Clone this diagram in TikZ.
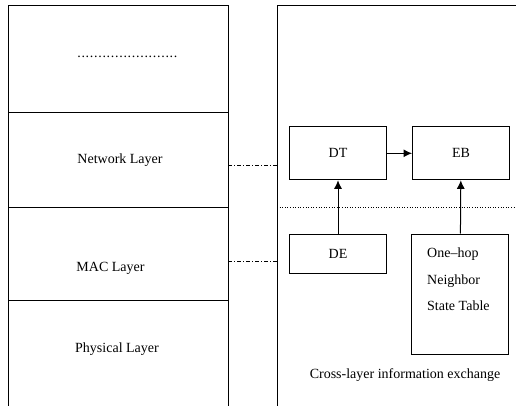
\documentclass[tikz,border=0pt]{standalone}
\usepackage{fontspec}
\setmainfont{Liberation Serif}
\usepackage{tikz}
\usetikzlibrary{arrows.meta,calc,positioning}
\tikzstyle{layertext}=[draw=none, inner sep=0pt, font=\fontsize{14}{16}\selectfont]
\tikzstyle{unit}=[draw, line width=1pt, minimum width=97pt, inner sep=0pt, font=\fontsize{14}{16}\selectfont]
\tikzstyle{textbox}=[draw=none, inner sep=0pt, font=\fontsize{14}{16}\selectfont]
\tikzset{%
    frame/.style={line width=1pt},
    linkline/.style={line width=0.6pt, dash pattern=on 4pt off 2pt on 1pt off 2pt},
    split/.style={line width=0.6pt, dotted},
    flow/.style={-{Latex[length=8.5pt,width=8pt]}, line width=1pt},
  }

\begin{document}
\begin{tikzpicture}[x=1pt, y=-1pt]
    \useasboundingbox (0,0) rectangle (516,406);
    % protocol stack
    \draw [frame] (8,406) -- (8,6) -- (228,6) -- (228,406);
    \draw [frame] (8,113) -- (228,113);
    \draw [frame] (8,207) -- (228,207);
    \draw [frame] (8,300) -- (228,300);
    \node (upper) [layertext] at (127.5,57) {\hbox to 101pt{\leaders\hbox to 4.2pt{\hss.\hss}\hfill}};
    \node (net) [layertext] at (120,160) {Network Layer};
    \node (mac) [layertext] at (110.5,268) {MAC Layer};
    \node (phy) [layertext] at (117,349) {Physical Layer};
    %
    \draw [frame] (277,406) -- (277,6) -- (516,6);
    \coordinate (netR) at (228,165.7);
    \coordinate (macR) at (228,261);
    \coordinate (netL) at (277,165.7);
    \coordinate (macL) at (277,261);
    \draw [linkline] (netR) -- (netL);
    \draw [linkline] (macR) -- (macL);
    \coordinate (splitL) at (277,207);
    \coordinate (splitR) at (516,207);
    \draw [split] (splitL) -- (splitR);
    %
    \node (dt) [unit, minimum height=53pt] at (338,153.3) {DT};
    \node (eb) [unit, right=25pt of dt, minimum height=53pt] {EB};
    \node (de) [unit, minimum height=39pt] at (338,253.7) {DE};
    \node (nst) [unit, minimum height=120pt] at (460,294) {};
    \node (nsttext) [textbox, align=left, anchor=north west, font=\fontsize{14}{26.7}\selectfont]
        at ($(nst.north west)+(16,14)$) {One--hop\\Neighbor\\State Table};
    \node (caption) [textbox] at (405,375.5) {Cross-layer information exchange};
    %
    \draw [flow] (dt) -- (eb);
    \draw [flow] (de) -- (dt);
    \draw [flow] (nst) -- (eb);
  \end{tikzpicture}
\end{document}
